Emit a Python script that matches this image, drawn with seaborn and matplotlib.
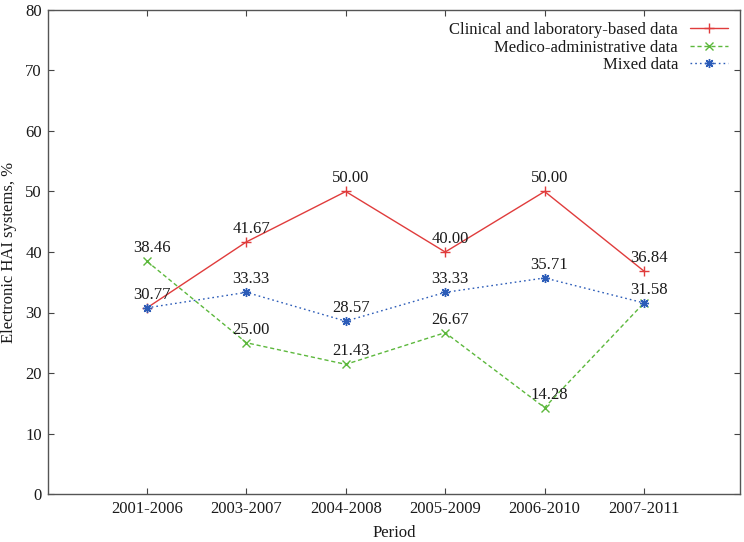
import matplotlib
matplotlib.use("Agg")
import matplotlib.pyplot as plt
import seaborn as sns
import pandas as pd

periods = ["2001-2006", "2003-2007", "2004-2008", "2005-2009", "2006-2010", "2007-2011"]
clinical = [30.77, 41.67, 50.00, 40.00, 50.00, 36.84]
medico = [38.46, 25.00, 21.43, 26.67, 14.28, 31.58]
mixed = [30.77, 33.33, 28.57, 33.33, 35.71, 31.58]
clinical_labels = [None, "41.67", "50.00", "40.00", "50.00", "36.84"]
medico_labels = ["38.46", "25.00", "21.43", "26.67", "14.28", None]
mixed_labels = ["30.77", "33.33", "28.57", "33.33", "35.71", "31.58"]
series_names = ["Clinical and laboratory-based data", "Medico-administrative data", "Mixed data"]

sns.set_style("ticks")
plt.rcParams["font.family"] = ["Liberation Serif", "DejaVu Serif"]

W, H = 744, 542
fig = plt.figure(figsize=(W / 100, H / 100), dpi=100)
ax = fig.add_axes([48 / W, 1 - 494 / H, (740 - 48) / W, (494 - 10) / H])

FS = 12
xpos = list(range(len(periods)))
styles = [
    dict(color="#e03c3c", ls="-", marker="+", ms=6.5, mew=1.0),
    dict(color="#5cb83c", ls=(0, (3, 2)), marker="x", ms=5.5, mew=1.0),
    dict(color="#2c5cb8", ls=(0, (1.2, 2.2)), marker=(8, 2, 0), ms=6.5, mew=1.0),
]
data = [clinical, medico, mixed]
labels = [clinical_labels, medico_labels, mixed_labels]
for name, vals, st, labs in zip(series_names, data, styles, labels):
    df = pd.DataFrame({"x": xpos, "y": vals})
    sns.lineplot(data=df, x="x", y="y", ax=ax, color=st["color"], linestyle=st["ls"],
                 marker=st["marker"], markersize=st["ms"], markeredgewidth=st["mew"],
                 markeredgecolor=st["color"], linewidth=1.0, label=name)
    for xi, yi, lab in zip(xpos, vals, labs):
        if lab is not None:
            ax.annotate(lab, (xi, yi), xytext=(3.5, 6.5), textcoords="offset points",
                        ha="center", va="baseline", fontsize=FS, color="#1a1a1a")

ax.set_xlim(-0.996, 5.966)
ax.set_ylim(0, 80)
ax.set_yticks(range(0, 81, 10))
ax.set_xticks(xpos)
ax.set_xticklabels(periods)
ax.tick_params(direction="in", length=4.5, width=0.8, top=True, right=True,
               labelsize=FS, colors="#444444", labelcolor="#1a1a1a")
ax.tick_params(axis="y", pad=4.5)
ax.tick_params(axis="x", pad=5)
for sp in ax.spines.values():
    sp.set_color("#555555")
    sp.set_linewidth(1.0)
ax.set_xlabel("Period", fontsize=FS, color="#1a1a1a", labelpad=6)
ax.set_ylabel("Electronic HAI systems, %", fontsize=FS, color="#1a1a1a", labelpad=6)

leg = ax.legend(loc="upper right", bbox_to_anchor=(728 / W, 1 - 22 / H),
                bbox_transform=fig.transFigure, frameon=False, markerfirst=False,
                fontsize=FS, handlelength=2.3, handletextpad=0.7, borderpad=0,
                borderaxespad=0, labelspacing=0.1)
for t in leg.get_texts():
    t.set_ha("right")
    t.set_color("#1a1a1a")
leg._legend_box.align = "right"

fig.savefig("out.png", dpi=100)
